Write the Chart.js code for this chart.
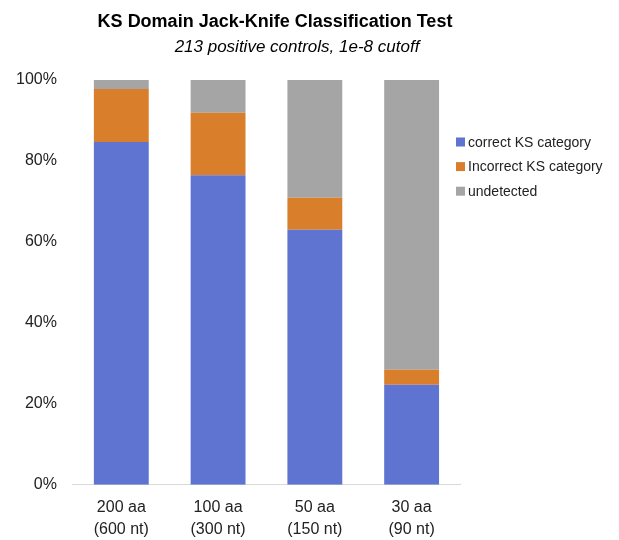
<!DOCTYPE html>
<html>
<head>
<meta charset="utf-8">
<script src="https://cdn.jsdelivr.net/npm/chart.js@4"></script>
<style>
    html, body { margin: 0; padding: 0; background: #fff; }
    #caixa { position: relative; width: 619px; height: 540px; }
</style>
</head>
<body>
<div id="caixa"><canvas id="jackknife-chart"></canvas></div>
<script>
        const categorias = [['200 aa', '(600 nt)'], ['100 aa', '(300 nt)'], ['50 aa', '(150 nt)'], ['30 aa', '(90 nt)']];
        const correto = [84.7, 76.5, 63.0, 24.7];
        const incorreto = [13.1, 15.4, 7.9, 3.7];
        const naoDetectado = [2.2, 8.1, 29.1, 71.6];
        const ticksY = [0, 20, 40, 60, 80, 100];
        const cores = ['#5F73D1', '#D97F2B', '#A5A5A5']; // azul, laranja, cinza

        const fonte = '"Liberation Sans", Arial, sans-serif';

        // titulo e subtitulo desenhados a mao (centros diferentes no original)
        const pluginTitulos = {
            id: 'titulos',
            afterDraw(chart) {
                const ctx = chart.ctx;
                ctx.save();
                ctx.fillStyle = '#000';
                ctx.textAlign = 'center';
                ctx.textBaseline = 'middle';
                ctx.font = 'bold 18px ' + fonte;
                ctx.fillText('KS Domain Jack-Knife Classification Test', 275, 22);
                ctx.font = 'italic 17px ' + fonte;
                ctx.fillText('213 positive controls, 1e-8 cutoff', 297, 47);
                ctx.restore();
            }
        };

        // legenda por cima da area do grafico, como no Excel
        const pluginLegenda = {
            id: 'legendaLivre',
            afterDraw(chart) {
                const ctx = chart.ctx;
                ctx.save();
                ctx.font = '14px ' + fonte;
                ctx.textBaseline = 'middle';
                ctx.textAlign = 'left';
                chart.data.datasets.forEach((ds, i) => {
                    const y = 142 + i * 24.6;
                    ctx.fillStyle = ds.backgroundColor;
                    ctx.fillRect(456, y - 4.5, 9, 9);
                    ctx.fillStyle = '#222';
                    ctx.fillText(ds.label, 468, y + 1);
                });
                ctx.restore();
            }
        };

        function criarGrafico() {
            const ctx = document.getElementById('jackknife-chart').getContext('2d');
            new Chart(ctx, {
                type: 'bar',
                data: {
                    labels: categorias,
                    datasets: [
                        { label: 'correct KS category', data: correto, backgroundColor: cores[0] },
                        { label: 'Incorrect KS category', data: incorreto, backgroundColor: cores[1] },
                        { label: 'undetected', data: naoDetectado, backgroundColor: cores[2] }
                    ]
                },
                options: {
                    responsive: true,
                    maintainAspectRatio: false,
                    animation: false,
                    datasets: {
                        bar: { categoryPercentage: 1, barPercentage: 0.567, borderWidth: 0 }
                    },
                    layout: {
                        padding: { top: 80, right: 159, bottom: -12, left: 0 }
                    },
                    plugins: {
                        legend: { display: false },
                        title: { display: false },
                        tooltip: { enabled: false }
                    },
                    scales: {
                        x: {
                            stacked: true,
                            grid: { display: false, drawTicks: false },
                            border: { display: true, color: '#D9D9D9', width: 1 },
                            ticks: {
                                color: '#222',
                                padding: 12,
                                font: { family: fonte, size: 16, lineHeight: 1.35 },
                                maxRotation: 0
                            }
                        },
                        y: {
                            stacked: true,
                            min: 0,
                            max: 100,
                            afterBuildTicks: (eixo) => { eixo.ticks = ticksY.map(v => ({ value: v })); },
                            grid: { display: false, drawTicks: false },
                            border: { display: false },
                            ticks: {
                                color: '#222',
                                padding: 16,
                                font: { family: fonte, size: 16 },
                                callback: (v) => v + '%'
                            }
                        }
                    }
                },
                plugins: [pluginTitulos, pluginLegenda]
            });
        }

        document.addEventListener('DOMContentLoaded', criarGrafico);
</script>
</body>
</html>
